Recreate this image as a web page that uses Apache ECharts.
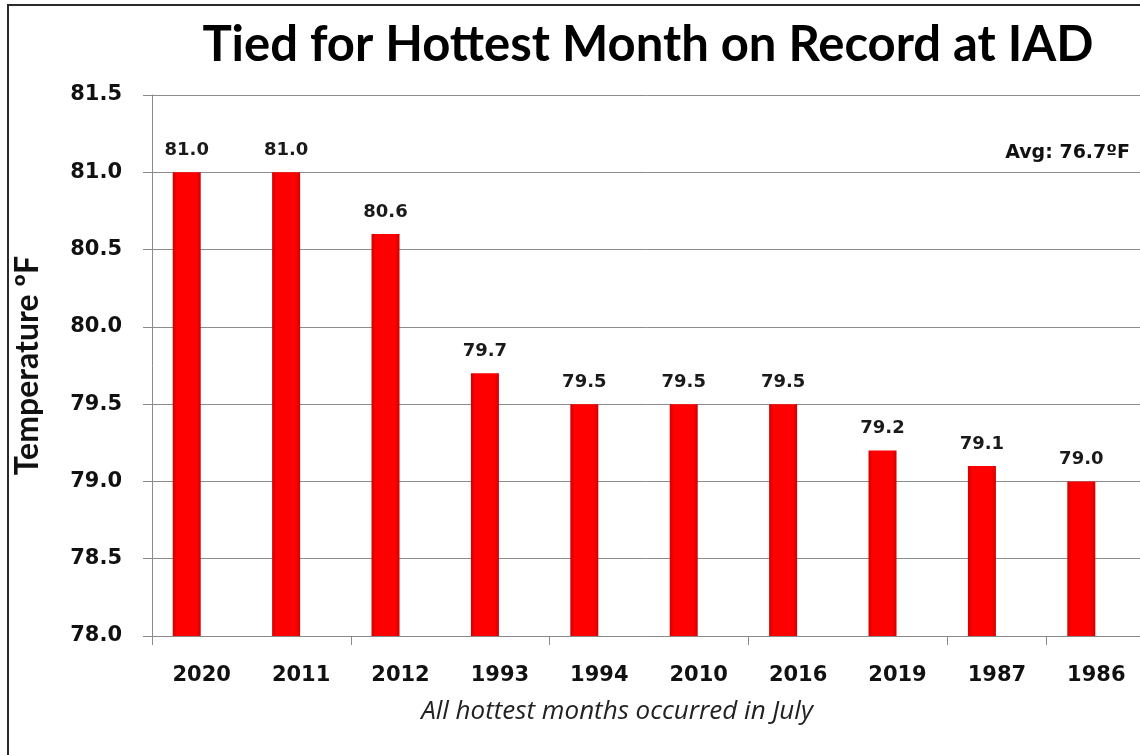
<!DOCTYPE html>
<html>
<head>
<meta charset="utf-8">
<script src="https://cdn.jsdelivr.net/npm/echarts@6/dist/echarts.min.js"></script>
<style>
html,body{margin:0;padding:0;background:#fff;}
#chart{width:1140px;height:755px;}
</style>
</head>
<body>
<div id="chart"></div>
<script>
const categories = ['2020','2011','2012','1993','1994','2010','2016','2019','1987','1986'];
const temperatures = [81.0, 81.0, 80.6, 79.7, 79.5, 79.5, 79.5, 79.2, 79.1, 79.0];
const yMin = 78.0, yMax = 81.5, yStep = 0.5;
const titleText = 'Tied for Hottest Month on Record at IAD';
const yAxisTitle = 'Temperature ºF';
const avgText = 'Avg: 76.7ºF';
const footnote = 'All hottest months occurred in July';

const chart = echarts.init(document.getElementById('chart'), null, {renderer:'canvas'});
const labelFont = 'DejaVu Sans';
const option = {
  backgroundColor: '#ffffff',
  animation: false,
  grid: {left: 152, right: -6, top: 95, bottom: 119, containLabel: false, outerBoundsMode: 'none'},
  xAxis: {
    type: 'category',
    data: categories,
    boundaryGap: true,
    axisLine: {show: true, lineStyle: {color: '#8a8a8a', width: 1}},
    axisTick: {show: true, interval: 1, length: 9, lineStyle: {color: '#8a8a8a'}},
    axisLabel: {interval: 0, margin: 29, color: '#111', fontFamily: labelFont, fontWeight: 'bold', fontSize: 21},
    splitLine: {show: false}
  },
  yAxis: {
    type: 'value',
    min: yMin, max: yMax, interval: yStep,
    name: yAxisTitle,
    nameLocation: 'middle',
    nameRotate: 90,
    nameGap: 108,
    nameTextStyle: {fontFamily: 'Lato', fontWeight: 'bold', fontSize: 32, color: '#111'},
    axisLine: {show: true, lineStyle: {color: '#8a8a8a', width: 1}},
    axisTick: {show: true, length: 9, lineStyle: {color: '#8a8a8a'}},
    axisLabel: {margin: 30, color: '#111', fontFamily: labelFont, fontWeight: 'bold', fontSize: 21,
      formatter: v => v.toFixed(1)},
    splitLine: {show: true, lineStyle: {color: '#8c8c8c', width: 1}}
  },
  series: [
    {
      type: 'bar',
      data: temperatures,
      barWidth: 28,
      barGap: '7%',
      itemStyle: {
        color: new echarts.graphic.LinearGradient(0, 0, 1, 0, [
          {offset: 0, color: '#d00000'},
          {offset: 0.15, color: '#ff0000'},
          {offset: 0.85, color: '#ff0000'},
          {offset: 1, color: '#d00000'}
        ])
      },
      label: {
        show: true, position: 'top', distance: 13,
        fontFamily: labelFont, fontWeight: 'bold', fontSize: 18, color: '#1a1a1a',
        formatter: p => p.value.toFixed(1)
      }
    },
    {
      type: 'bar',
      data: [],
      barWidth: 28,
      barGap: '7%'
    }
  ],
  graphic: [
    {type: 'rect', shape: {x: 8, y: 5, width: 1200, height: 800},
     style: {fill: 'none', stroke: '#2a2a2a', lineWidth: 2}, silent: true, z: 100},
    {type: 'text', x: 648, y: 45, style: {text: titleText, textAlign: 'center', textVerticalAlign: 'middle',
      font: 'bold 49px Lato', fill: '#000'}},
    {type: 'text', x: 1130, y: 153, style: {text: avgText, textAlign: 'right', textVerticalAlign: 'middle',
      font: 'bold 19px "DejaVu Sans"', fill: '#111'}},
    {type: 'text', x: 617, y: 712, style: {text: footnote, textAlign: 'center', textVerticalAlign: 'middle',
      font: 'italic 26px "Open Sans"', fill: '#222'}}
  ]
};
chart.setOption(option);
</script>
</body>
</html>
